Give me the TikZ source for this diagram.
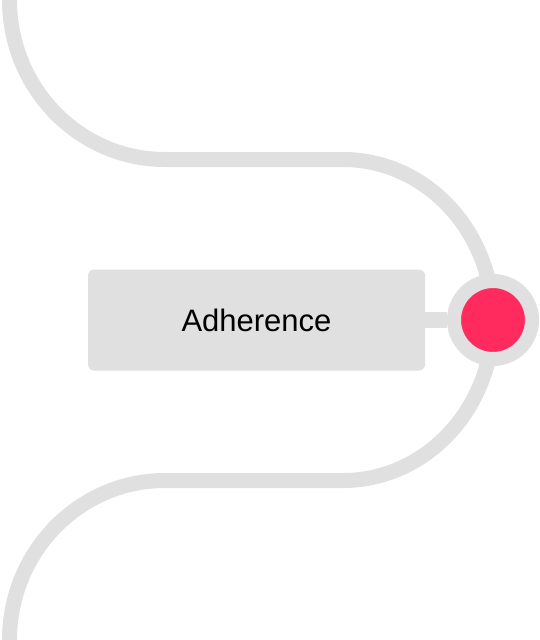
\documentclass[tikz,border=0pt]{standalone}
\usepackage{fontspec}
\setmainfont{Liberation Sans}
\definecolor{track}{HTML}{E0E0E0}
\definecolor{hot}{HTML}{FF2B5E}
\def\hubnode{\node[circle,draw=track,line width=14pt,fill=hot,minimum size=78pt,inner sep=0pt]}
\def\labelnode{\node[rectangle,rounded corners=6pt,fill=track,minimum width=337pt,minimum height=101pt,font=\fontsize{31}{37}\selectfont]}

\begin{document}
\begin{tikzpicture}[x=1pt,y=-1pt]
\useasboundingbox (0,0) rectangle (539,640);
\coordinate (top) at (9.5,0);
\coordinate (upl) at (165,159.5);
\coordinate (upr) at (343,159.5);
\coordinate (hub) at (493,320);
\coordinate (lowr) at (343,480.5);
\coordinate (lowl) at (165,480.5);
\coordinate (bottom) at (9.5,640);
\draw[track,line width=15pt] (top) .. controls (9.5,88) and (79,159.5) .. (upl)
  -- (upr) .. controls (425.8,159.5) and (493,231.4) .. (hub)
  .. controls (493,408.6) and (425.8,480.5) .. (lowr)
  -- (lowl) .. controls (79,480.5) and (9.5,552) .. (bottom);
\labelnode (adherence) at (256.5,320) {Adherence};
\hubnode (dot) at (hub) {};
\draw[track,line width=16pt] (adherence) -- (dot);
\end{tikzpicture}
\end{document}
